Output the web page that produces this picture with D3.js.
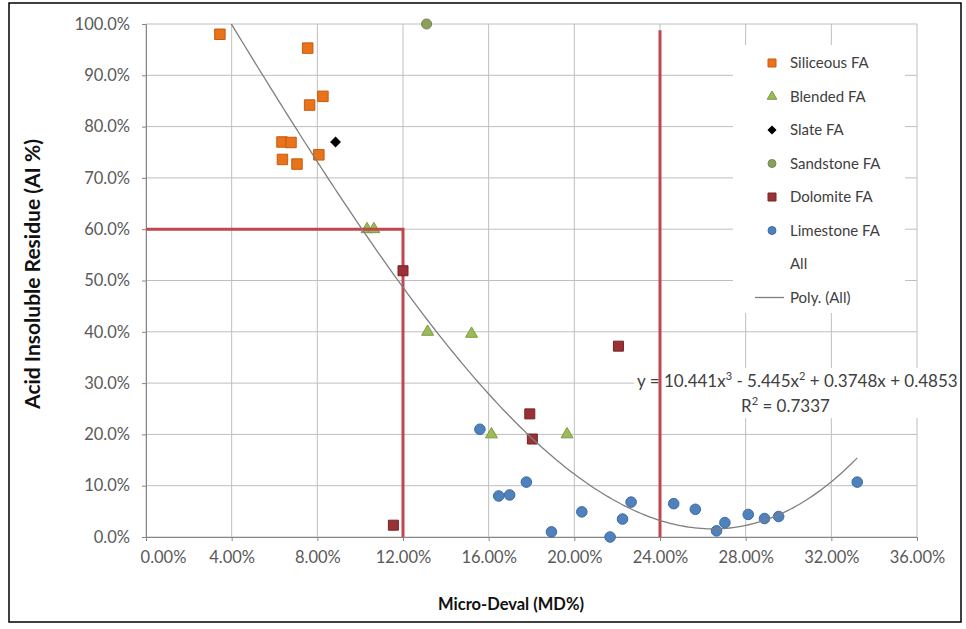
<!DOCTYPE html>
<html>
<head>
<meta charset="utf-8">
<script src="https://cdn.jsdelivr.net/npm/d3@7"></script>
<style>
  html, body { margin: 0; padding: 0; background: #fff; }
  svg { display: block; }
  text { font-family: Lato, "Open Sans", "DejaVu Sans", sans-serif; }
</style>
</head>
<body>
<svg id="chart" width="966" height="629"></svg>
<script>
// ---------- data (percent units) ----------
const xTicks = [0, 4, 8, 12, 16, 20, 24, 28, 32, 36];
const yTicks = [0, 10, 20, 30, 40, 50, 60, 70, 80, 90, 100];

const siliceousX = [3.45, 7.55, 8.26, 7.64, 6.35, 6.77, 8.07, 6.37, 7.05];
const siliceousY = [98.0, 95.3, 85.9, 84.2, 77.0, 76.9, 74.5, 73.6, 72.7];

const blendedX = [10.32, 10.64, 13.15, 15.2, 16.13, 19.66];
const blendedY = [60.0, 60.0, 40.0, 39.6, 20.0, 20.0];

const slateX = [8.85];
const slateY = [77.0];

const sandstoneX = [13.1];
const sandstoneY = [100.0];

const dolomiteX = [11.55, 12.0, 17.92, 18.04, 22.06];
const dolomiteY = [2.3, 51.9, 24.0, 19.1, 37.2];

const limestoneX = [15.59, 16.47, 16.98, 17.76, 18.93, 20.35, 21.67, 22.25, 22.65, 24.64, 25.65, 26.64, 27.03, 28.12, 28.88, 29.54, 33.21];
const limestoneY = [21.0, 8.0, 8.2, 10.7, 1.0, 4.9, 0.0, 3.5, 6.8, 6.5, 5.4, 1.2, 2.8, 4.4, 3.6, 4.0, 10.7];

// reference (threshold) lines
const refLine1X = [0, 12, 12];
const refLine1Y = [60, 60, 0];
const refLine2X = [24, 24];
const refLine2Y = [0, 98.8];

const legendLabels = ["Siliceous FA", "Blended FA", "Slate FA", "Sandstone FA", "Dolomite FA", "Limestone FA", "All", "Poly. (All)"];

// ---------- layout ----------
const svg = d3.select("#chart");
const x = d3.scaleLinear().domain([0, 36]).range([146, 917]);
const y = d3.scaleLinear().domain([0, 100]).range([537, 24]);

const zip = (xs, ys) => xs.map((v, i) => [v, ys[i]]);

// outer border
svg.append("rect").attr("x", 9).attr("y", 3).attr("width", 952).attr("height", 619)
  .attr("fill", "#fff").attr("stroke", "#000").attr("stroke-width", 1.5);

// gridlines
const grid = svg.append("g");
grid.selectAll(".gy").data(yTicks).join("line")
  .attr("x1", x(0)).attr("x2", x(36))
  .attr("y1", d => y(d)).attr("y2", d => y(d))
  .attr("stroke", "#BEBEBE").attr("stroke-width", 1);
grid.selectAll(".gx").data(xTicks).join("line")
  .attr("x1", d => x(d)).attr("x2", d => x(d))
  .attr("y1", y(0)).attr("y2", y(100))
  .attr("stroke", "#BEBEBE").attr("stroke-width", 1);

// axes
const xAxis = d3.axisBottom(x).tickValues(xTicks).tickSize(4).tickPadding(8)
  .tickFormat(d => d.toFixed(2) + "%");
const yAxis = d3.axisLeft(y).tickValues(yTicks).tickSize(4).tickPadding(12)
  .tickFormat(d => d.toFixed(1) + "%");

const gx = svg.append("g").attr("transform", `translate(0,${y(0)})`).call(xAxis);
const gy = svg.append("g").attr("transform", `translate(${x(0)},0)`).call(yAxis);
[gx, gy].forEach(g => {
  g.select(".domain").attr("stroke", "#868686");
  g.selectAll(".tick line").attr("stroke", "#868686");
  g.selectAll(".tick text").attr("fill", "#595959").style("font-size", "16.5px")
    .style("font-family", "Lato, sans-serif");
});
gx.selectAll(".tick text").attr("dy", "0.85em");
gx.selectAll(".tick text").filter(d => d === 0).attr("dx", 17);

// axis titles
svg.append("text").attr("transform", "translate(40,274) rotate(-90)")
  .attr("text-anchor", "middle").attr("font-weight", "bold").attr("font-size", 21)
  .attr("fill", "#111").text("Acid Insoluble Residue (AI %)");
svg.append("text").attr("x", 511).attr("y", 610)
  .attr("text-anchor", "middle").attr("font-weight", "bold").attr("font-size", 16.5)
  .attr("fill", "#111").text("Micro-Deval (MD%)");

// legend background
svg.append("rect").attr("x", 733).attr("y", 45).attr("width", 172).attr("height", 268).attr("fill", "#fff");

// equation label background
svg.append("rect").attr("x", 634).attr("y", 368).attr("width", 326).attr("height", 50).attr("fill", "#fff");
const eq = svg.append("text").attr("x", 637).attr("y", 387).attr("font-size", 17).attr("fill", "#404040");
eq.append("tspan").text("y = 10.441x");
eq.append("tspan").attr("dy", -7).attr("font-size", 11).text("3");
eq.append("tspan").attr("dy", 7).text(" - 5.445x");
eq.append("tspan").attr("dy", -7).attr("font-size", 11).text("2");
eq.append("tspan").attr("dy", 7).text(" + 0.3748x + 0.4853");
const r2 = svg.append("text").attr("x", 741).attr("y", 412).attr("font-size", 17).attr("fill", "#404040");
r2.append("tspan").text("R");
r2.append("tspan").attr("dy", -7).attr("font-size", 11).text("2");
r2.append("tspan").attr("dy", 7).text(" = 0.7337");

// ---------- marker helpers ----------
const sym = (type, size) => d3.symbol().type(type).size(size)();
function drawSeries(xs, ys, type, size, fill, stroke, rot) {
  svg.append("g").selectAll("path").data(zip(xs, ys)).join("path")
    .attr("d", sym(type, size))
    .attr("transform", d => `translate(${x(d[0])},${y(d[1])})` + (rot ? ` rotate(${rot})` : ""))
    .attr("fill", fill).attr("stroke", stroke).attr("stroke-width", 1);
}

const colors = {
  siliceous: ["#E8731A", "#C95A10"],
  blended: ["#9BBB59", "#7E9A40"],
  slate: ["#000000", "#000000"],
  sandstone: ["#8C9E5E", "#76884A"],
  dolomite: ["#983234", "#7A2224"],
  limestone: ["#4F81BD", "#3D6BA3"]
};

drawSeries(siliceousX, siliceousY, d3.symbolSquare, 110, ...colors.siliceous);
drawSeries(blendedX, blendedY, d3.symbolTriangle, 62, ...colors.blended);
drawSeries(slateX, slateY, d3.symbolSquare, 45, ...colors.slate, 45);
drawSeries(sandstoneX, sandstoneY, d3.symbolCircle, 80, ...colors.sandstone);

// reference lines
const refLine = d3.line().x(d => x(d[0])).y(d => y(d[1]));
svg.append("path").attr("d", refLine(zip(refLine1X, refLine1Y)))
  .attr("fill", "none").attr("stroke", "#C0474C").attr("stroke-width", 3);
svg.append("path").attr("d", refLine(zip(refLine2X, refLine2Y)))
  .attr("fill", "none").attr("stroke", "#C0474C").attr("stroke-width", 3);

drawSeries(dolomiteX, dolomiteY, d3.symbolSquare, 100, ...colors.dolomite);
drawSeries(limestoneX, limestoneY, d3.symbolCircle, 88, ...colors.limestone);

// ---------- polynomial (cubic) trendline fitted to all points ----------
const allX = [].concat(siliceousX, blendedX, slateX, sandstoneX, dolomiteX, limestoneX).map(v => v / 100);
const allY = [].concat(siliceousY, blendedY, slateY, sandstoneY, dolomiteY, limestoneY).map(v => v / 100);
function polyFit(xs, ys, deg) {
  const n = deg + 1;
  const A = Array.from({length: n}, () => new Array(n + 1).fill(0));
  xs.forEach((xv, k) => {
    for (let i = 0; i < n; i++) {
      for (let j = 0; j < n; j++) A[i][j] += Math.pow(xv, i + j);
      A[i][n] += ys[k] * Math.pow(xv, i);
    }
  });
  for (let c = 0; c < n; c++) {
    let p = c;
    for (let r = c + 1; r < n; r++) if (Math.abs(A[r][c]) > Math.abs(A[p][c])) p = r;
    [A[c], A[p]] = [A[p], A[c]];
    for (let r = 0; r < n; r++) {
      if (r === c) continue;
      const f = A[r][c] / A[c][c];
      for (let k = c; k <= n; k++) A[r][k] -= f * A[c][k];
    }
  }
  return A.map((row, i) => row[n] / row[i]);
}
const coef = polyFit(allX, allY, 3);
const evalPoly = t => coef.reduce((s, c, i) => s + c * Math.pow(t, i), 0);
const xmin = d3.min(allX), xmax = d3.max(allX);
const trendPts = d3.range(0, 201).map(i => {
  const t = xmin + (xmax - xmin) * i / 200;
  return [t * 100, evalPoly(t) * 100];
});
svg.append("clipPath").attr("id", "plotclip").append("rect")
  .attr("x", x(0)).attr("y", y(100)).attr("width", x(36) - x(0)).attr("height", y(0) - y(100));
svg.append("path").attr("clip-path", "url(#plotclip)")
  .attr("d", d3.line().x(d => x(d[0])).y(d => y(d[1]))(trendPts))
  .attr("fill", "none").attr("stroke", "#7F7F7F").attr("stroke-width", 1.3);

// ---------- legend ----------
const lg = svg.append("g");
const ly0 = 63, ldy = 33.5, lmx = 772, ltx = 790;
const legendMarks = [
  [d3.symbolSquare, 64, colors.siliceous, 0],
  [d3.symbolTriangle, 40, colors.blended, 0],
  [d3.symbolSquare, 30, colors.slate, 45],
  [d3.symbolCircle, 50, colors.sandstone, 0],
  [d3.symbolSquare, 64, colors.dolomite, 0],
  [d3.symbolCircle, 50, colors.limestone, 0]
];
legendLabels.forEach((lab, i) => {
  const yy = ly0 + i * ldy;
  if (i < legendMarks.length) {
    const [t, s, c, r] = legendMarks[i];
    lg.append("path").attr("d", sym(t, s))
      .attr("transform", `translate(${lmx},${yy})` + (r ? ` rotate(${r})` : ""))
      .attr("fill", c[0]).attr("stroke", c[1]).attr("stroke-width", 1);
  } else if (i === legendLabels.length - 1) {
    lg.append("line").attr("x1", 755).attr("x2", 784).attr("y1", yy).attr("y2", yy)
      .attr("stroke", "#7F7F7F").attr("stroke-width", 1.3);
  }
  lg.append("text").attr("x", ltx).attr("y", yy).attr("dy", "0.35em")
    .attr("font-size", 15).attr("fill", "#404040").text(lab);
});
</script>
</body>
</html>
